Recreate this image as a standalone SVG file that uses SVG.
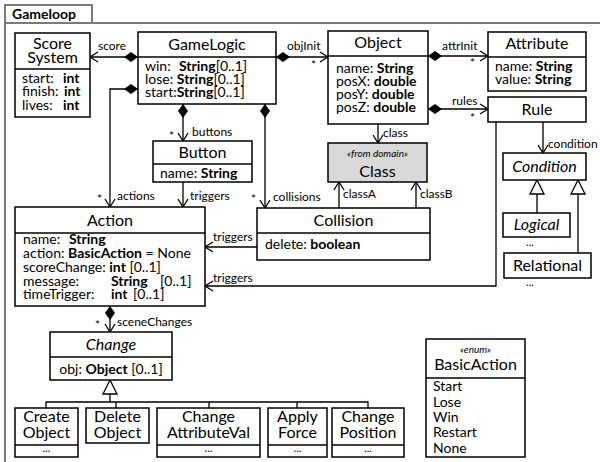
<svg xmlns="http://www.w3.org/2000/svg" width="600" height="462" viewBox="0 0 600 462">
  <style>
    .frame { fill: none; stroke: #7a7a7a; stroke-width: 2; }
    .box { fill: #fff; stroke: #000; stroke-width: 1.5; }
    .ext { fill: #d9d9d9; stroke: #000; stroke-width: 1.5; }
    .sep { stroke: #000; stroke-width: 1.5; }
    .conn { fill: none; stroke: #000; stroke-width: 1.3; }
    text { font-family: Lato, "Liberation Sans", sans-serif; fill: #000; }
    .name { font-size: 16px; text-anchor: middle; }
    .attr { font-size: 14px; }
    .lbl { font-size: 12px; }
    .stereo { font-size: 10px; font-style: italic; text-anchor: middle; }
    .dots { font-size: 11px; text-anchor: middle; }
    .b { font-weight: bold; }
    .it { font-style: italic; }
    .title { font-size: 14px; font-weight: bold; }
  </style>
  <defs>
    <marker id="diamond" markerUnits="userSpaceOnUse" markerWidth="16" markerHeight="12" refX="0" refY="0" orient="auto" overflow="visible">
      <path d="M0,0 L7,-5 L14,0 L7,5 Z" fill="#000"/>
    </marker>
    <marker id="open" markerUnits="userSpaceOnUse" markerWidth="10" markerHeight="12" refX="0" refY="0" orient="auto" overflow="visible">
      <path d="M-8,-5 L0,0 L-8,5" fill="none" stroke="#000" stroke-width="1.3"/>
    </marker>
    <marker id="gen" markerUnits="userSpaceOnUse" markerWidth="14" markerHeight="16" refX="0" refY="0" orient="auto" overflow="visible">
      <path d="M0,0 L-14,-7 L-14,7 Z" fill="#fff" stroke="#000" stroke-width="1.3"/>
    </marker>
  </defs>

  <!-- package frame -->
  <g id="frame">
    <rect class="frame" x="5" y="5" width="87" height="18"/>
    <path class="frame" d="M5,462 V23 H600"/>
    <text class="title" x="12" y="19">Gameloop</text>
  </g>

  <!-- connectors -->
  <g id="connectors">
    <path class="conn" d="M138,57 H90" marker-start="url(#diamond)" marker-end="url(#open)"/>
    <path class="conn" d="M138,89 H110 V207" marker-start="url(#diamond)" marker-end="url(#open)"/>
    <path class="conn" d="M183,104 V141" marker-start="url(#diamond)" marker-end="url(#open)"/>
    <path class="conn" d="M265,104 V208" marker-start="url(#diamond)" marker-end="url(#open)"/>
    <path class="conn" d="M276,57 H328" marker-start="url(#diamond)" marker-end="url(#open)"/>
    <path class="conn" d="M428,56 H488" marker-start="url(#diamond)" marker-end="url(#open)"/>
    <path class="conn" d="M428,109 H488" marker-start="url(#diamond)" marker-end="url(#open)"/>
    <path class="conn" d="M378,124 V143" marker-end="url(#open)"/>
    <path class="conn" d="M339,208 V182" marker-end="url(#open)"/>
    <path class="conn" d="M416,208 V182" marker-end="url(#open)"/>
    <path class="conn" d="M543,122 V153" marker-end="url(#open)"/>
    <path class="conn" d="M537,213 V180" marker-end="url(#gen)"/>
    <path class="conn" d="M578,253 V180" marker-end="url(#gen)"/>
    <path class="conn" d="M183,182 V207" marker-end="url(#open)"/>
    <path class="conn" d="M257,247 H205" marker-end="url(#open)"/>
    <path class="conn" d="M496,122 V286 H205" marker-end="url(#open)"/>
    <path class="conn" d="M110,306 V332" marker-start="url(#diamond)" marker-end="url(#open)"/>
    <path class="conn" d="M110,402 V380" marker-end="url(#gen)"/>
    <path class="conn" d="M46,408 V402 H368 V408 M116,402 V408 M209,402 V408 M297,402 V408"/>

    <text class="lbl" x="98" y="50">score</text>
    <text class="lbl" x="287" y="50">objInit</text>
    <text class="lbl" x="311" y="69">*</text>
    <text class="lbl" x="442" y="50">attrInit</text>
    <text class="lbl" x="470" y="67">*</text>
    <text class="lbl" x="452" y="105">rules</text>
    <text class="lbl" x="470" y="122">*</text>
    <text class="lbl" x="383" y="137">class</text>
    <text class="lbl" x="548" y="148">condition</text>
    <text class="lbl" x="192" y="136">buttons</text>
    <text class="lbl" x="169" y="140">*</text>
    <text class="lbl" x="117" y="200">actions</text>
    <text class="lbl" x="97" y="203">*</text>
    <text class="lbl" x="190" y="200">triggers</text>
    <text class="lbl" x="273" y="201">collisions</text>
    <text class="lbl" x="251" y="203">*</text>
    <text class="lbl" x="213" y="241">triggers</text>
    <text class="lbl" x="213" y="282">triggers</text>
    <text class="lbl" x="343" y="198">classA</text>
    <text class="lbl" x="420" y="198">classB</text>
    <text class="lbl" x="117" y="326">sceneChanges</text>
    <text class="lbl" x="95" y="329">*</text>
  </g>

  <g id="ScoreSystem">
    <rect class="box" x="15" y="33" width="75" height="84"/>
    <line class="sep" x1="15" y1="69" x2="90" y2="69"/>
    <text class="name" x="52.5" y="49">Score</text>
    <text class="name" x="52.5" y="63">System</text>
    <text class="attr" x="22" y="83">start:<tspan class="b" x="63">int</tspan></text>
    <text class="attr" x="22" y="96">finish:<tspan class="b" x="64">int</tspan></text>
    <text class="attr" x="22" y="110">lives:<tspan class="b" x="63">int</tspan></text>
  </g>

  <g id="GameLogic">
    <rect class="box" x="138" y="32" width="138" height="72"/>
    <line class="sep" x1="138" y1="57" x2="276" y2="57"/>
    <text class="name" x="207" y="50">GameLogic</text>
    <text class="attr" x="145" y="71">win: <tspan class="b" x="179">String</tspan>[0..1]</text>
    <text class="attr" x="145" y="84">lose: <tspan class="b">String</tspan>[0..1]</text>
    <text class="attr" x="145" y="97">start:<tspan class="b">String</tspan>[0..1]</text>
  </g>

  <g id="Button">
    <rect class="box" x="153" y="141" width="99" height="41"/>
    <line class="sep" x1="153" y1="164" x2="252" y2="164"/>
    <text class="name" x="202.5" y="158">Button</text>
    <text class="attr" x="160" y="178">name: <tspan class="b">String</tspan></text>
  </g>

  <g id="Object">
    <rect class="box" x="328" y="31" width="100" height="93"/>
    <line class="sep" x1="328" y1="56" x2="428" y2="56"/>
    <text class="name" x="378" y="48">Object</text>
    <text class="attr" x="336" y="73">name: <tspan class="b">String</tspan></text>
    <text class="attr" x="336" y="86">posX: <tspan class="b">double</tspan></text>
    <text class="attr" x="336" y="99">posY: <tspan class="b">double</tspan></text>
    <text class="attr" x="336" y="112">posZ: <tspan class="b">double</tspan></text>
  </g>

  <g id="Attribute">
    <rect class="box" x="488" y="32" width="98" height="59"/>
    <line class="sep" x1="488" y1="57" x2="586" y2="57"/>
    <text class="name" x="537" y="49">Attribute</text>
    <text class="attr" x="495" y="71">name: <tspan class="b">String</tspan></text>
    <text class="attr" x="495" y="84">value: <tspan class="b">String</tspan></text>
  </g>

  <g id="Rule">
    <rect class="box" x="488" y="97" width="98" height="25"/>
    <text class="name" x="537" y="115">Rule</text>
  </g>

  <g id="Class">
    <rect class="ext" x="328" y="143" width="99" height="39"/>
    <text class="stereo" x="377.5" y="157">«from domain»</text>
    <text class="name" x="377.5" y="177">Class</text>
  </g>

  <g id="Condition">
    <rect class="box" x="503" y="153" width="83" height="27"/>
    <text class="name it" x="544.5" y="172">Condition</text>
  </g>

  <g id="Logical">
    <rect class="box" x="503" y="213" width="67" height="24"/>
    <text class="name it" x="536.5" y="230">Logical</text>
    <text class="dots" x="530" y="246">...</text>
  </g>

  <g id="Relational">
    <rect class="box" x="504" y="253" width="87" height="25"/>
    <text class="name" x="547.5" y="271">Relational</text>
    <text class="dots" x="530" y="286">...</text>
  </g>

  <g id="Collision">
    <rect class="box" x="257" y="208" width="173" height="52"/>
    <line class="sep" x1="257" y1="233" x2="430" y2="233"/>
    <text class="name" x="343.5" y="226">Collision</text>
    <text class="attr" x="265" y="249">delete: <tspan class="b">boolean</tspan></text>
  </g>

  <g id="Action">
    <rect class="box" x="15" y="207" width="190" height="99"/>
    <line class="sep" x1="15" y1="233" x2="205" y2="233"/>
    <text class="name" x="110" y="226">Action</text>
    <text class="attr" x="23" y="244">name: <tspan class="b" x="69">String</tspan></text>
    <text class="attr" x="23" y="258">action: <tspan class="b">BasicAction</tspan> = None</text>
    <text class="attr" x="23" y="272">scoreChange: <tspan class="b">int</tspan> [0..1]</text>
    <text class="attr" x="23" y="286">message:<tspan class="b" x="111">String</tspan><tspan x="160">[0..1]</tspan></text>
    <text class="attr" x="23" y="299">timeTrigger:<tspan class="b" x="111">int</tspan><tspan x="133">[0..1]</tspan></text>
  </g>

  <g id="Change">
    <rect class="box" x="50" y="332" width="122" height="48"/>
    <line class="sep" x1="50" y1="357" x2="172" y2="357"/>
    <text class="name it" x="111" y="350">Change</text>
    <text class="attr" x="111" y="374" text-anchor="middle">obj: <tspan class="b">Object</tspan> [0..1]</text>
  </g>

  <g id="CreateObject">
    <rect class="box" x="15" y="408" width="63" height="49"/>
    <line class="sep" x1="15" y1="445" x2="78" y2="445"/>
    <text class="name" x="46.5" y="422">Create</text>
    <text class="name" x="46.5" y="438">Object</text>
    <text class="dots" x="46.5" y="452">...</text>
  </g>

  <g id="DeleteObject">
    <rect class="box" x="86" y="408" width="63" height="35"/>
    <text class="name" x="117.5" y="422">Delete</text>
    <text class="name" x="117.5" y="438">Object</text>
  </g>

  <g id="ChangeAttributeVal">
    <rect class="box" x="157" y="408" width="103" height="49"/>
    <line class="sep" x1="157" y1="445" x2="260" y2="445"/>
    <text class="name" x="208.5" y="422">Change</text>
    <text class="name" x="208.5" y="438">AttributeVal</text>
    <text class="dots" x="208.5" y="452">...</text>
  </g>

  <g id="ApplyForce">
    <rect class="box" x="268" y="408" width="59" height="49"/>
    <line class="sep" x1="268" y1="445" x2="327" y2="445"/>
    <text class="name" x="297.5" y="422">Apply</text>
    <text class="name" x="297.5" y="438">Force</text>
    <text class="dots" x="297.5" y="452">...</text>
  </g>

  <g id="ChangePosition">
    <rect class="box" x="332" y="408" width="72" height="49"/>
    <line class="sep" x1="332" y1="445" x2="404" y2="445"/>
    <text class="name" x="368" y="422">Change</text>
    <text class="name" x="368" y="438">Position</text>
    <text class="dots" x="368" y="452">...</text>
  </g>

  <g id="BasicAction">
    <rect class="box" x="426" y="339" width="99" height="118"/>
    <line class="sep" x1="426" y1="378" x2="525" y2="378"/>
    <text class="stereo" x="475.5" y="353">«enum»</text>
    <text class="name" x="475.5" y="370">BasicAction</text>
    <text class="attr" x="433" y="391">Start</text>
    <text class="attr" x="433" y="407">Lose</text>
    <text class="attr" x="433" y="422">Win</text>
    <text class="attr" x="433" y="437">Restart</text>
    <text class="attr" x="433" y="453">None</text>
  </g>
</svg>
